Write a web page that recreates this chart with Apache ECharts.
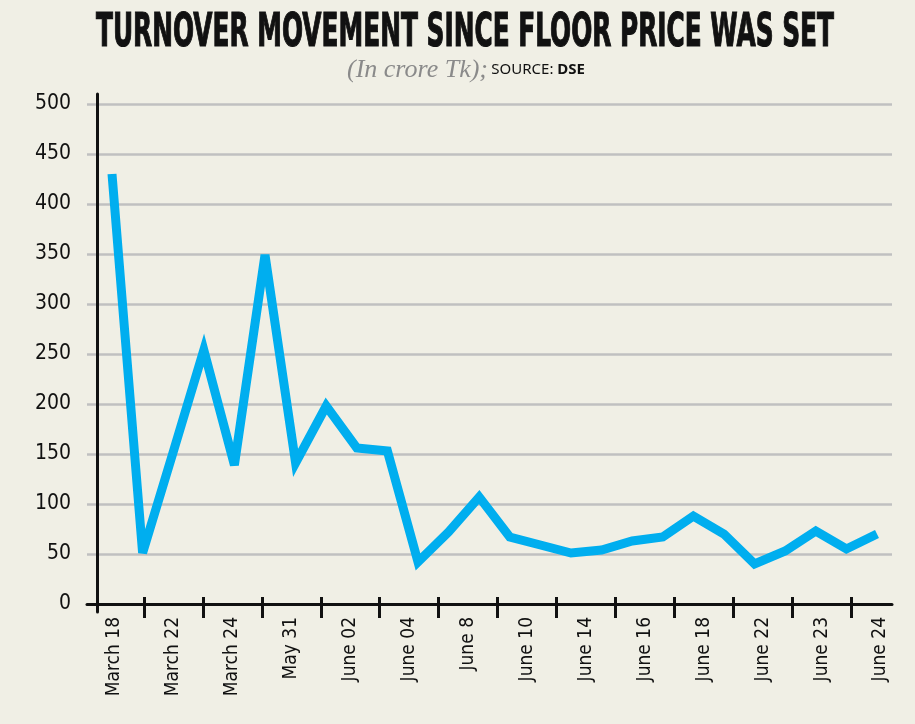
<!DOCTYPE html>
<html><head><meta charset="utf-8">
<script src="https://cdn.jsdelivr.net/npm/echarts@6/dist/echarts.min.js"></script>
<style>html,body{margin:0;padding:0;background:#f0efe5;}#c{width:915px;height:724px;}</style>
</head><body><div id="c"></div>
<script>
const titleText = 'TURNOVER MOVEMENT SINCE FLOOR PRICE WAS SET';
const subtitleUnit = '(In crore Tk);';
const sourceLabel = 'SOURCE: ';
const sourceName = 'DSE';
const categoryLabels = ['March 18','March 22','March 24','May 31','June 02','June 04','June 8','June 10','June 14','June 16','June 18','June 22','June 23','June 24'];
const turnover = [430, 51, 152, 254, 139, 349, 141, 198, 156, 153, 42, 72, 107, 67, 59, 51, 54, 63, 67, 88, 70, 40, 53, 73, 55, 70];
const yMin = 0, yMax = 500, yStep = 50;

const pointIds = turnover.map((_, i) => String(i + 1));
const labelPositions = categoryLabels.map((_, i) => i + 0.5);
const tickPositions = categoryLabels.slice(1).map((_, i) => i + 1);

const NARROW = '"Liberation Sans Narrow", "DejaVu Sans Condensed", "Arial Narrow", sans-serif';
const titleFont = 'bold 47px ' + NARROW;
const ctx = document.createElement('canvas').getContext('2d');
ctx.font = titleFont;
const titleScale = 738 / ctx.measureText(titleText).width;

const xMin = 0.0326, xMax = 13.695;
const chart = echarts.init(document.getElementById('c'), null, {renderer: 'canvas'});
chart.setOption({
  backgroundColor: '#f0efe5',
  animation: false,
  grid: [
    {left: 87, right: 23, top: 104, bottom: 120},
    {left: 112, right: 38, top: 104, bottom: 120},
    {left: 97, right: 23, top: 94, bottom: 112}
  ],
  xAxis: [
    {gridIndex: 0, type: 'value', min: xMin, max: xMax, splitLine: {show: false},
     axisLine: {show: true, lineStyle: {color: '#111', width: 3}},
     axisTick: {show: true, length: 14, lineStyle: {color: '#111', width: 3}, customValues: tickPositions},
     axisLabel: {show: true, rotate: 90, margin: 13, customValues: labelPositions,
       formatter: (v) => categoryLabels[Math.floor(v)], fontFamily: NARROW, fontSize: 19, color: '#111'}},
    {gridIndex: 0, type: 'value', min: xMin, max: xMax, position: 'bottom', axisLine: {show: false},
     splitLine: {show: false}, axisLabel: {show: false},
     axisTick: {show: true, inside: true, length: 7, lineStyle: {color: '#111', width: 3}, customValues: tickPositions}},
    {gridIndex: 1, type: 'category', data: pointIds, boundaryGap: false, show: false},
    {gridIndex: 2, type: 'value', show: false}
  ],
  yAxis: [
    {gridIndex: 0, type: 'value', min: yMin, max: yMax, interval: yStep,
     axisLine: {show: false}, axisTick: {show: false},
     splitLine: {show: true, lineStyle: {color: '#c0c0c0', width: 2.5}},
     axisLabel: {margin: 16, fontFamily: NARROW, fontSize: 21, color: '#111'}},
    {gridIndex: 1, type: 'value', min: yMin, max: yMax, show: false},
    {gridIndex: 2, type: 'value', min: 0, max: 1, axisLine: {show: true, lineStyle: {color: '#111', width: 3}},
     axisTick: {show: false}, axisLabel: {show: false}, splitLine: {show: false}}
  ],
  graphic: [
    {type: 'text', x: 465, y: 34, scaleX: titleScale,
     style: {text: titleText, font: titleFont, fill: '#111', stroke: '#111', lineWidth: 1.2, align: 'center', verticalAlign: 'middle'}},
    {type: 'text', x: 466, y: 70,
     style: {text: '{a|' + subtitleUnit + '} {b|' + sourceLabel + '}{c|' + sourceName + '}',
       align: 'center', verticalAlign: 'middle',
       rich: {
         a: {fontFamily: '"Liberation Serif", serif', fontStyle: 'italic', fontSize: 26, fill: '#8a8a8a', color: '#8a8a8a'},
         b: {fontFamily: '"Noto Sans", sans-serif', fontSize: 15, fill: '#111', color: '#111'},
         c: {fontFamily: '"Noto Sans", sans-serif', fontSize: 15, fontWeight: 'bold', fill: '#111', color: '#111'}
       }}}
  ],
  series: [{type: 'line', xAxisIndex: 2, yAxisIndex: 1, data: turnover, symbol: 'none',
    lineStyle: {color: '#00aeef', width: 9, join: 'miter', miterLimit: 4, cap: 'butt'}}]
});
</script></body></html>
